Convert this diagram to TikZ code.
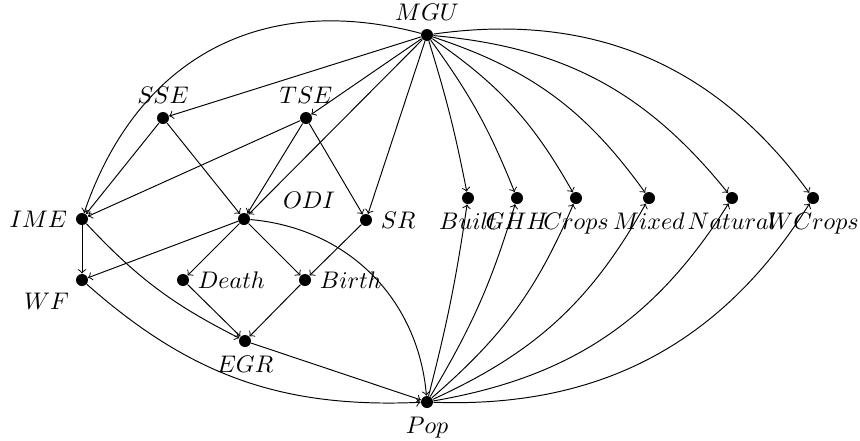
\documentclass[tikz,border=0pt]{standalone}
\begin{document}
\begin{tikzpicture}[x=0.01465cm,y=-0.01465cm,
  v/.style={circle,fill=black,inner sep=0pt,minimum size=5pt},
  e/.style={->,>=to}]
\useasboundingbox (0,0) rectangle (860,440);
\node[v,label=above:$MGU$] (MGU) at (427,35) {};
\node[v,label=above:$SSE$] (SSE) at (163,118) {};
\node[v,label=above:$TSE$] (TSE) at (306,118) {};
\node[v,label=left:$IME$] (IME) at (82,219) {};
\node[v] (ODI) at (244,219) {};
\node (ODIl) at (309,200) {$ODI$};
\node[v,label=right:$SR$] (SR) at (366,220) {};
\node[v,label=below left:$WF$] (WF) at (82,280) {};
\node[v,label=right:$Death$] (Death) at (183,280) {};
\node[v,label=right:$Birth$] (Birth) at (305,280) {};
\node[v,label=below:$EGR$] (EGR) at (245,341) {};
\node[v,label=below:$Pop$] (Pop) at (427,402) {};
\node[v,label=below:$Built$] (Built) at (468,198) {};
\node[v,label=below:$GHH$] (GHH) at (517,198) {};
\node[v,label=below:$Crops$] (Crops) at (576,198) {};
\node[v,label=below:$Mixed$] (Mixed) at (649,198) {};
\node[v,label=below:$Natural$] (Natural) at (732,198) {};
\node[v,label=below:$WCrops$] (WCrops) at (813,198) {};
% straight edges
\draw[e] (MGU) -- (SSE);
\draw[e] (MGU) -- (TSE);
\draw[e] (MGU) -- (ODI);
\draw[e] (MGU) -- (SR);
\draw[e] (SSE) -- (IME);
\draw[e] (SSE) -- (ODI);
\draw[e] (TSE) -- (IME);
\draw[e] (TSE) -- (ODI);
\draw[e] (TSE) -- (SR);
\draw[e] (IME) -- (WF);
\draw[e] (ODI) -- (WF);
\draw[e] (ODI) -- (Death);
\draw[e] (ODI) -- (Birth);
\draw[e] (SR) -- (Birth);
\draw[e] (Death) -- (EGR);
\draw[e] (Birth) -- (EGR);
\draw[e] (EGR) -- (Pop);
% curved edges
\draw[e] (MGU) to[bend right=43,looseness=1.1] (IME);
\draw[e] (IME) to[bend right=10] (EGR);
\draw[e] (ODI) to[bend left=40] (Pop);
\draw[e] (WF) to[bend right=22] (Pop);
\draw[e] (MGU) to[bend left=3] (Built);
\draw[e] (MGU) to[bend left=7] (GHH);
\draw[e] (MGU) to[bend left=13] (Crops);
\draw[e] (MGU) to[bend left=18] (Mixed);
\draw[e] (MGU) to[bend left=23] (Natural);
\draw[e] (MGU) to[bend left=31] (WCrops);
\draw[e] (Pop) to[bend right=3] (Built);
\draw[e] (Pop) to[bend right=7] (GHH);
\draw[e] (Pop) to[bend right=13] (Crops);
\draw[e] (Pop) to[bend right=18] (Mixed);
\draw[e] (Pop) to[bend right=24] (Natural);
\draw[e] (Pop) to[bend right=30] (WCrops);
\end{tikzpicture}
\end{document}
